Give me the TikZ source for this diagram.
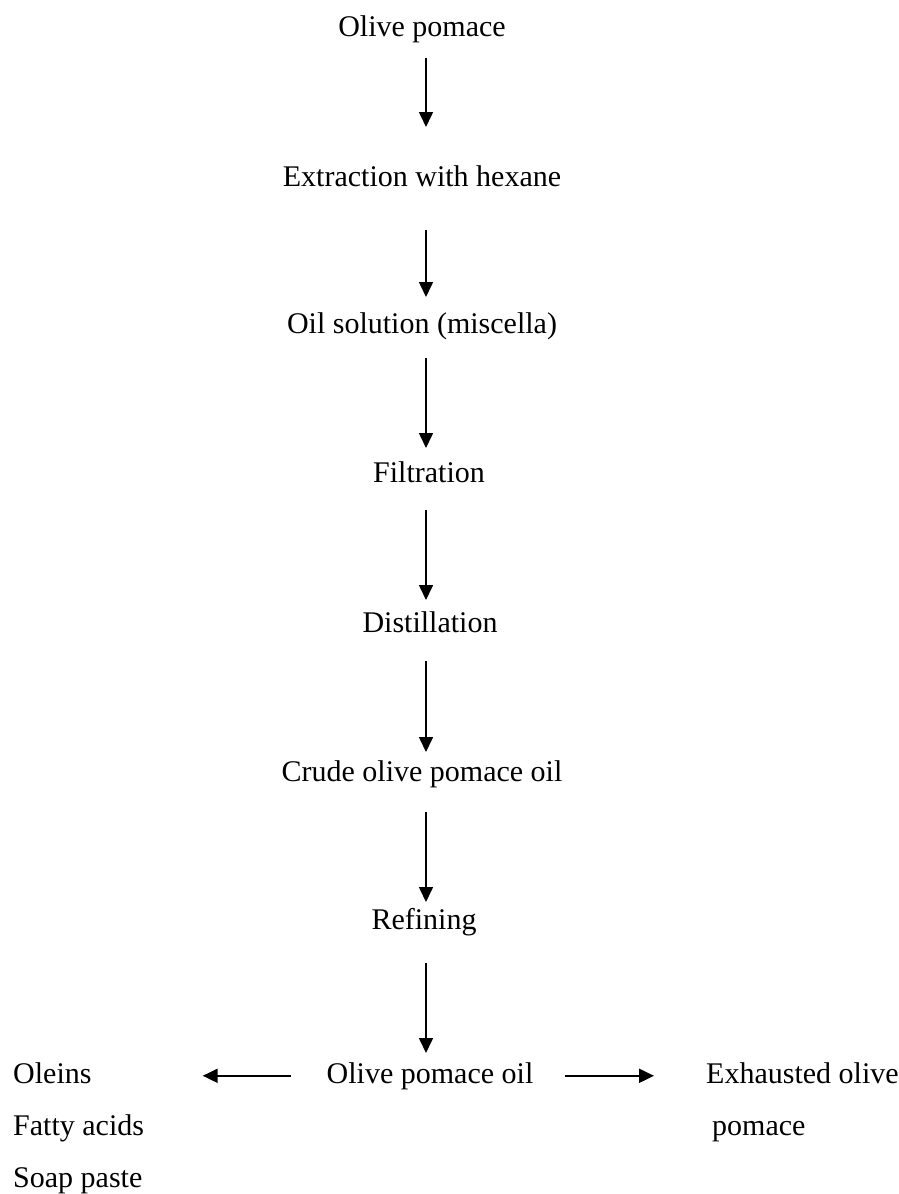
\documentclass[tikz,border=0pt]{standalone}
\usepackage{fontspec}
\setmainfont{Liberation Serif}
\usetikzlibrary{arrows.meta}
\begin{document}
\begin{tikzpicture}[x=1pt, y=-1pt,
    stage/.style={font=\fontsize{30}{36}\selectfont, inner sep=0pt, anchor=base},
    outlet/.style={stage, anchor=base west},
    flow/.style={-{Triangle[length=15pt,width=14pt]}, line width=1.6pt}]
      \useasboundingbox (0,0) rectangle (899,1194);
      \coordinate (spine) at (426,0);
      \node [stage] (op)    at (422,36)   {Olive pomace};
      \node [stage] (ext)   at (422,186)  {Extraction with hexane};
      \node [stage] (oil)   at (422,333)  {Oil solution (miscella)};
      \node [stage] (filt)  at (429,482)  {Filtration};
      \node [stage] (dist)  at (430,632)  {Distillation};
      \node [stage] (crude) at (422,781)  {Crude olive pomace oil};
      \node [stage] (ref)   at (424,929)  {Refining};
      \node [stage] (opo)   at (430,1083) {Olive pomace oil};
      \node [outlet] (oleins) at (13,1083) {Oleins};
      \node [outlet] (fatty)  at (13,1135) {Fatty acids};
      \node [outlet] (soap)   at (13,1187) {Soap paste};
      \node [outlet] (exh)    at (706,1083) {Exhausted olive};
      \node [outlet] (exh2)   at (712,1135) {pomace};
      \draw [flow] ([yshift=-22pt]op.base -| spine) -- ([yshift=59pt]ext.base -| spine);
      \draw [flow] ([yshift=-44pt]ext.base -| spine) -- ([yshift=36pt]oil.base -| spine);
      \draw [flow] ([yshift=-25pt]oil.base -| spine) -- ([yshift=34pt]filt.base -| spine);
      \draw [flow] ([yshift=-28pt]filt.base -| spine) -- ([yshift=32pt]dist.base -| spine);
      \draw [flow] ([yshift=-29pt]dist.base -| spine) -- ([yshift=29pt]crude.base -| spine);
      \draw [flow] ([yshift=-31pt]crude.base -| spine) -- ([yshift=27pt]ref.base -| spine);
      \draw [flow] ([yshift=-34pt]ref.base -| spine) -- ([yshift=30pt]opo.base -| spine);
      \draw [flow, line width=2pt, shorten <=36pt, shorten >=111pt] (opo.west) -- (opo.west -| oleins.east);
      \draw [flow, line width=2pt, shorten <=31pt, shorten >=52pt] (opo.east) -- (opo.east -| exh.west);
\end{tikzpicture}
\end{document}
